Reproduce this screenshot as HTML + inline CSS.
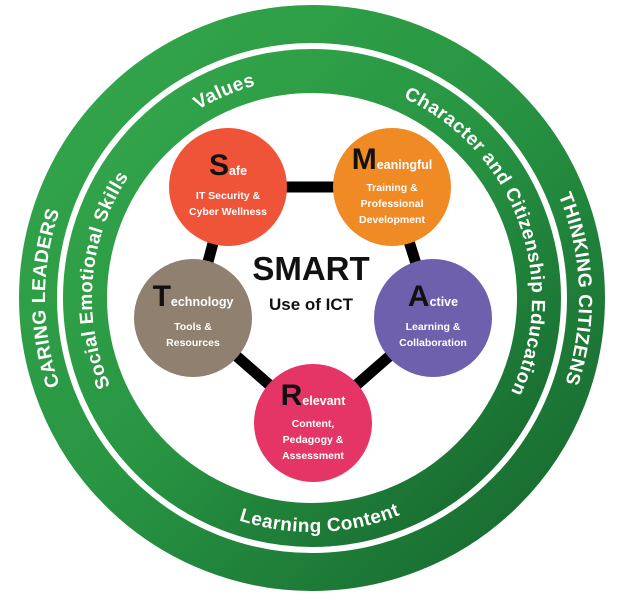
<!DOCTYPE html>
<html><head><meta charset="utf-8"><style>
html,body{margin:0;padding:0;background:#fff;}
svg{display:block;font-family:"Liberation Sans",sans-serif;font-weight:bold;}
</style></head><body>
<svg width="624" height="611" viewBox="0 0 624 611">
<defs>
<linearGradient id="g1" x1="0" y1="0" x2="1" y2="1">
<stop offset="0" stop-color="#35a84c"/><stop offset="0.5" stop-color="#279442"/><stop offset="1" stop-color="#15642d"/>
</linearGradient>
</defs>
<g id="rings"></g>
<g id="links"></g>
<g id="nodes"></g>
<text x="311" y="280" text-anchor="middle" font-size="33" fill="#111">SMART</text>
<text x="311" y="310" text-anchor="middle" font-size="17" fill="#111">Use of ICT</text>
</svg>
<script>
const NS='http://www.w3.org/2000/svg';
const cx=312, cy=298;
function mk(tag,attrs,parent){const e=document.createElementNS(NS,tag);for(const k in attrs)e.setAttribute(k,attrs[k]);parent.appendChild(e);return e;}
const rings=document.getElementById('rings');
const defs=document.querySelector('defs');
let o=mk('circle',{cx:cx,cy:cy,r:274,fill:'none',stroke:'url(#g1)','stroke-width':38},rings);


let i=mk('circle',{cx:cx,cy:cy,r:227,fill:'none',stroke:'url(#g1)','stroke-width':44},rings);



function arcPath(id,r,a0,a1){
  const rad=a=>a*Math.PI/180;
  const x0=cx+r*Math.cos(rad(a0)),y0=cy+r*Math.sin(rad(a0));
  const x1=cx+r*Math.cos(rad(a1)),y1=cy+r*Math.sin(rad(a1));
  const sweep=a1>a0?1:0;const large=Math.abs(a1-a0)>180?1:0;
  mk('path',{id:id,d:`M ${x0} ${y0} A ${r} ${r} 0 ${large} ${sweep} ${x1} ${y1}`,fill:'none'},defs);
}
const labels=[
 ['values','Values',220,-113,19],
 ['character-citizenship','Character and Citizenship Education',220,-20,19],
 ['social-emotional','Social Emotional Skills',220,185,19],
 ['learning-content','Learning Content',234,88,19,-1],
 ['caring-leaders','CARING LEADERS',267,180,19],
 ['thinking-citizens','THINKING CITIZENS',267,-2,19]
];
const svg=document.querySelector('svg');
labels.forEach((l,k)=>{
  const [name,txt,r,mid,fs]=l;const dir=l[5]||1;
  const id='p'+k;
  if(dir>0) arcPath(id,r,mid-90,mid+90); else arcPath(id,r,mid+90,mid-90);
  const t=mk('text',{'font-size':fs,fill:'#fff','letter-spacing':'0.5'},svg);
  
  
  const tp=mk('textPath',{href:'#'+id,startOffset:'50%','text-anchor':'middle'},t);
  tp.textContent=txt;
});
const nodes=[
 ['safe','S','afe',['IT Security &','Cyber Wellness'],228,187,'#ef5438'],
 ['meaningful','M','eaningful',['Training &','Professional','Development'],392,187,'#ef8a25'],
 ['active','A','ctive',['Learning &','Collaboration'],433,318,'#6f60ad'],
 ['relevant','R','elevant',['Content,','Pedagogy &','Assessment'],313,423,'#e53566'],
 ['technology','T','echnology',['Tools &','Resources'],193,318,'#8f806f']
];
const links=document.getElementById('links');
for(let k=0;k<5;k++){
  const a=nodes[k],b=nodes[(k+1)%5];
  const ln=mk('line',{x1:a[4],y1:a[5],x2:b[4],y2:b[5],stroke:'#000','stroke-width':11},links);
  
  
}
const ng=document.getElementById('nodes');
nodes.forEach(n=>{
  const [name,big,rest,lines,x,y,col]=n;
  const g=mk('g',{},ng);
  
  
  mk('circle',{cx:x,cy:y,r:59,fill:col},g);
  const n3=lines.length===3;
  const ty=y-(n3?18:12);
  const t=mk('text',{x:x,y:ty,'font-size':12.5,fill:'#fff','text-anchor':'middle'},g);
  const s1=mk('tspan',{'font-size':30,fill:'#111'},t);s1.textContent=big;
  const s2=mk('tspan',{},t);s2.textContent=rest;
  lines.forEach((ln,j)=>{
    const tt=mk('text',{x:x,y:ty+(n3?22:24)+j*16,'font-size':10.5,fill:'#fff','text-anchor':'middle'},g);
    tt.textContent=ln;
  });
});
</script>
</body></html>
